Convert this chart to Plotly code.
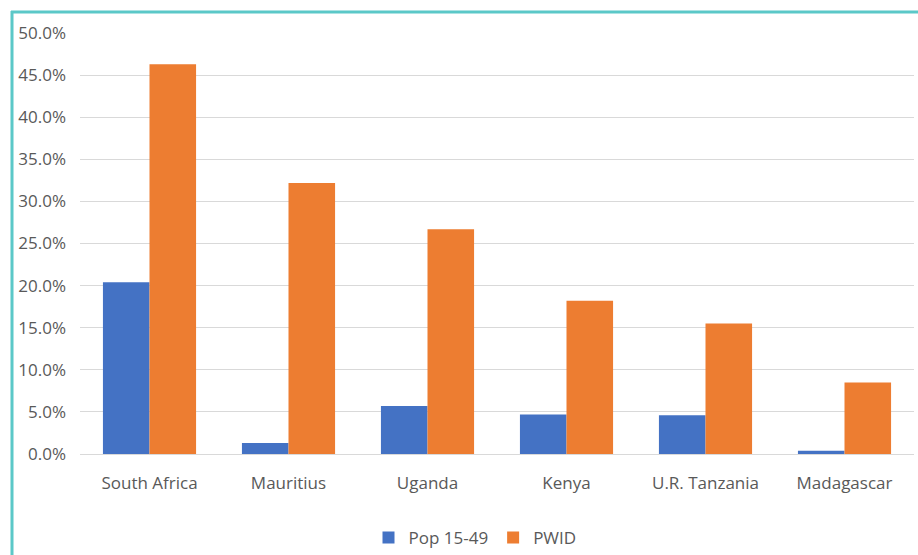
import plotly.graph_objects as go

countries = ["South Africa", "Mauritius", "Uganda", "Kenya", "U.R. Tanzania", "Madagascar"]
pop_15_49 = [0.204, 0.013, 0.057, 0.047, 0.046, 0.004]
pwid = [0.463, 0.322, 0.267, 0.182, 0.155, 0.085]
y_ticks = [0, 0.05, 0.10, 0.15, 0.20, 0.25, 0.30, 0.35, 0.40, 0.45, 0.50]

font_family = "Open Sans"
text_color = "#595959"
fs = 17

fig = go.Figure()
fig.add_trace(go.Bar(x=countries, y=pop_15_49, name="Pop 15-49",
                     marker=dict(color="#4472C4", line=dict(width=0))))
fig.add_trace(go.Bar(x=countries, y=pwid, name="PWID",
                     marker=dict(color="#ED7D31", line=dict(width=0))))

W, H = 918, 555
L, R, T, B = 80, 4, 33, 101
pw, ph = W - L - R, H - T - B

def px_x(p):
    return (p - L) / pw

def px_y(p):
    return (H - B - p) / ph

fig.update_layout(
    width=W, height=H,
    margin=dict(l=L, r=R, t=T, b=B, pad=0, autoexpand=False),
    paper_bgcolor="white", plot_bgcolor="white",
    barmode="group", bargap=0.33, bargroupgap=0,
    font=dict(family=font_family, size=fs, color=text_color),
    showlegend=True,
    legend=dict(orientation="h", x=px_x(475), y=px_y(538), xanchor="center", yanchor="middle",
                font=dict(size=fs, color=text_color), itemwidth=30, traceorder="normal"),
    xaxis=dict(showgrid=False, showline=False, ticks="", tickfont=dict(size=fs, color=text_color),
               ticklabelstandoff=17, automargin=False),
    yaxis=dict(range=[0, 0.5], tickvals=y_ticks, tickformat=".1%", showgrid=True,
               gridcolor="#D9D9D9", gridwidth=1, zeroline=True, zerolinecolor="#D9D9D9",
               zerolinewidth=1, showline=False, ticks="", tickfont=dict(size=fs, color=text_color),
               ticklabelstandoff=13, automargin=False),
    shapes=[
        dict(type="line", xref="paper", yref="paper", x0=px_x(12), x1=px_x(12), y0=px_y(11), y1=px_y(560),
             line=dict(color="#5BC8C8", width=3)),
        dict(type="line", xref="paper", yref="paper", x0=px_x(11), x1=px_x(925), y0=px_y(12), y1=px_y(12),
             line=dict(color="#5BC8C8", width=3)),
    ],
)

fig.write_html("out.html")
